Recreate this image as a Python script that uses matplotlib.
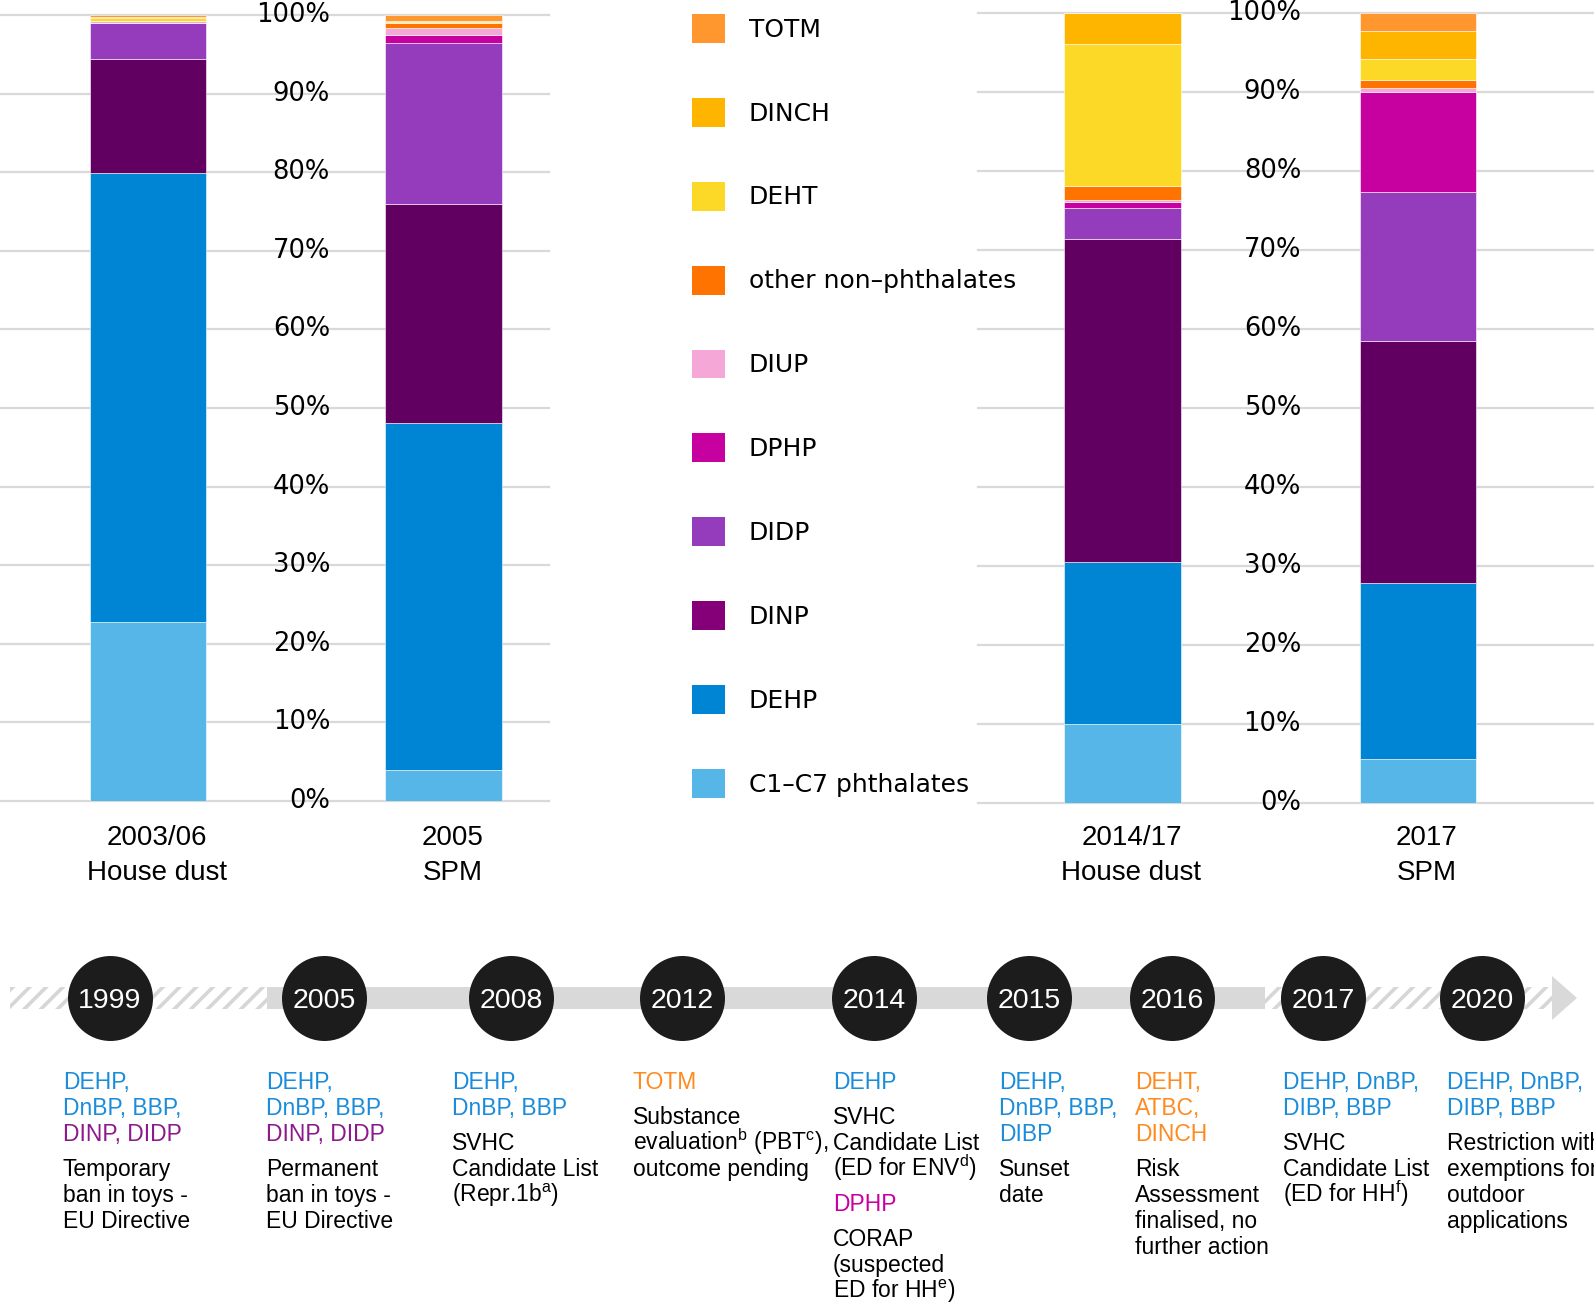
import numpy as np
import matplotlib
matplotlib.use("Agg")
import matplotlib.pyplot as plt
from matplotlib.patches import Rectangle, Polygon, Patch
from matplotlib import transforms as mtrans

plt.rcParams["mathtext.fontset"] = "custom"
plt.rcParams["mathtext.rm"] = "Liberation Sans"
plt.rcParams["mathtext.it"] = "Liberation Sans:italic"
plt.rcParams["hatch.linewidth"] = 2.6

# ---- data (share of total plasticiser, %) ----
components = ["C1–C7 phthalates", "DEHP", "DINP", "DIDP", "DPHP", "DIUP",
              "other non–phthalates", "DEHT", "DINCH", "TOTM"]
dust_2003 = [22.8, 57.1, 14.5, 4.6, 0.0, 0.2, 0.1, 0.3, 0.2, 0.2]
spm_2005 = [4.0, 44.1, 27.9, 20.5, 0.9, 0.9, 0.7, 0.1, 0.1, 0.8]
dust_2014 = [10.0, 20.5, 40.9, 3.9, 0.8, 0.2, 1.8, 18.0, 3.9, 0.0]
spm_2017 = [5.6, 22.3, 30.6, 18.9, 12.6, 0.5, 1.0, 2.7, 3.5, 2.3]

left_years = ["2003/06", "2005"]
right_years = ["2014/17", "2017"]
matrices = ["House dust", "SPM"]
pct_ticks = list(range(0, 101, 10))

events = ["1999", "2005", "2008", "2012", "2014", "2015", "2016", "2017", "2020"]
# blocks of (colour key, lines) under each event
notes = [
    [[("b", "DEHP,"), ("b", "DnBP, BBP,"), ("p", "DINP, DIDP")],
     [("k", "Temporary"), ("k", "ban in toys -"), ("k", "EU Directive")]],
    [[("b", "DEHP,"), ("b", "DnBP, BBP,"), ("p", "DINP, DIDP")],
     [("k", "Permanent"), ("k", "ban in toys -"), ("k", "EU Directive")]],
    [[("b", "DEHP,"), ("b", "DnBP, BBP")],
     [("k", "SVHC"), ("k", "Candidate List"), ("k", r"(Repr.1b$^{\mathrm{a}}$)")]],
    [[("o", "TOTM")],
     [("k", "Substance"), ("k", r"evaluation$^{\mathrm{b}}$ (PBT$^{\mathrm{c}}$),"),
      ("k", "outcome pending")]],
    [[("b", "DEHP")],
     [("k", "SVHC"), ("k", "Candidate List"), ("k", r"(ED for ENV$^{\mathrm{d}}$)")],
     [("m", "DPHP")],
     [("k", "CORAP"), ("k", "(suspected"), ("k", r"ED for HH$^{\mathrm{e}}$)")]],
    [[("b", "DEHP,"), ("b", "DnBP, BBP,"), ("b", "DIBP")],
     [("k", "Sunset"), ("k", "date")]],
    [[("o", "DEHT,"), ("o", "ATBC,"), ("o", "DINCH")],
     [("k", "Risk"), ("k", "Assessment"), ("k", "finalised, no"), ("k", "further action")]],
    [[("b", "DEHP, DnBP,"), ("b", "DIBP, BBP")],
     [("k", "SVHC"), ("k", "Candidate List"), ("k", r"(ED for HH$^{\mathrm{f}}$)")]],
    [[("b", "DEHP, DnBP,"), ("b", "DIBP, BBP")],
     [("k", "Restriction with"), ("k", "exemptions for"), ("k", "outdoor"), ("k", "applications")]],
]

# ---- styles / layout ----
colors = ["#56B6E8", "#0085D4", "#620062", "#943CBC", "#C700A0", "#F5A7D8",
          "#FF7300", "#FCD927", "#FDB500", "#FF962E"]
legend_colors = list(colors)
legend_colors[2] = "#850078"
text_colors = {"b": "#1A8CDA", "p": "#8C1A8C", "o": "#FF8A1F", "m": "#C800A0", "k": "black"}

W, H = 1594, 1303
circle_x = [110, 324, 511, 682, 874, 1029, 1172, 1323, 1482]
text_x = [63, 266, 452, 633, 833, 999, 1135, 1283, 1447]
band_y0, band_y1 = 987, 1009


def box(x0, y0, x1, y1):
    return [x0 / W, 1 - y1 / H, (x1 - x0) / W, (y1 - y0) / H]


fig = plt.figure(figsize=(W / 100, H / 100), dpi=100)

# ---- timeline (figure-wide pixel axes) ----
axt = fig.add_axes([0, 0, 1, 1])
axt.set_xlim(0, W)
axt.set_ylim(H, 0)
axt.axis("off")
band_h = band_y1 - band_y0
axt.add_patch(Rectangle((10, band_y0), 257, band_h, facecolor="white",
                        edgecolor="#D6D6D6", hatch="//", lw=0))
axt.add_patch(Rectangle((267, band_y0), 1265 - 267, band_h, facecolor="#D9D9D9", lw=0))
axt.add_patch(Rectangle((1265, band_y0), 1552 - 1265, band_h, facecolor="white",
                        edgecolor="#D6D6D6", hatch="//", lw=0))
axt.add_patch(Polygon([(1552, 976), (1577, 998), (1552, 1020)], closed=True,
                      facecolor="#D9D9D9", lw=0))

cy = (band_y0 + band_y1) / 2
axt.scatter(circle_x, [cy] * len(events), s=3745, c="#1C1C1C", zorder=5, linewidths=0)
for x, yr in zip(circle_x, events):
    axt.text(x, cy + 10, yr, color="white", fontsize=20.5, family="Liberation Sans",
             ha="center", va="baseline", zorder=6)

for x, blocks in zip(text_x, notes):
    y = 1081
    for bi, block in enumerate(blocks):
        if bi > 0:
            y += 35
        for li, (ck, line) in enumerate(block):
            if li > 0:
                y += 26
            axt.text(x, y + 8, line, color=text_colors[ck], fontsize=16.5,
                     family="Liberation Sans", ha="left", va="baseline")


# ---- stacked bar charts ----
def draw_chart(ax, samples, years, tick_x, xlim):
    vals = np.array(samples)
    x = np.arange(len(samples))
    bottom = np.zeros(len(samples))
    for j in range(len(components)):
        ax.bar(x, vals[:, j], width=0.395, bottom=bottom, color=colors[j],
               edgecolor="white", linewidth=0.4, zorder=3)
        bottom += vals[:, j]
    ax.set_xlim(*xlim)
    ax.set_ylim(0, 100)
    ax.set_yticks(pct_ticks)
    ax.grid(axis="y", color="#D9D9D9", lw=1.6)
    for gl in ax.get_ygridlines():
        gl.set_clip_on(False)
    ax.set_axisbelow(True)
    ax.tick_params(length=0, labelleft=False, labelbottom=False)
    ax.set_xticks([])
    for s in ax.spines.values():
        s.set_visible(False)
    ax.patch.set_alpha(0)
    tr = mtrans.blended_transform_factory(ax.transAxes, ax.transData)
    for v in pct_ticks:
        ax.text(tick_x, v, f"{v}%", transform=tr, ha="right", va="center",
                fontsize=18.5, family="DejaVu Sans")
    off = mtrans.ScaledTranslation(9 / 100, 0, fig.dpi_scale_trans)
    tr2 = mtrans.blended_transform_factory(ax.transData, fig.transFigure) + off
    for i, (yr, m) in enumerate(zip(years, matrices)):
        ax.text(i, 1 - 845 / H, yr, transform=tr2, ha="center", va="baseline",
                fontsize=20, family="Liberation Sans")
        ax.text(i, 1 - 880 / H, m, transform=tr2, ha="center", va="baseline",
                fontsize=20, family="Liberation Sans")


ax1 = fig.add_axes(box(0, 15, 549, 801))
draw_chart(ax1, [dust_2003, spm_2005], left_years, 330 / 549, (-0.501, 1.357))
ax2 = fig.add_axes(box(978, 13.3, 1594, 803))
draw_chart(ax2, [dust_2014, spm_2017], right_years, (1301 - 978) / 616, (-0.489, 1.596))

# ---- legend ----
handles = [Patch(facecolor=legend_colors[j], edgecolor="none")
           for j in reversed(range(len(components)))]
fig.legend(handles, list(reversed(components)), loc="upper left",
           bbox_to_anchor=(692 / W, 1 - 14 / H), frameon=False,
           prop={"family": "DejaVu Sans", "size": 18}, handlelength=1.32,
           handleheight=1.4, labelspacing=2.2, handletextpad=0.95,
           borderpad=0, borderaxespad=0)

fig.savefig("out.png", dpi=100)
